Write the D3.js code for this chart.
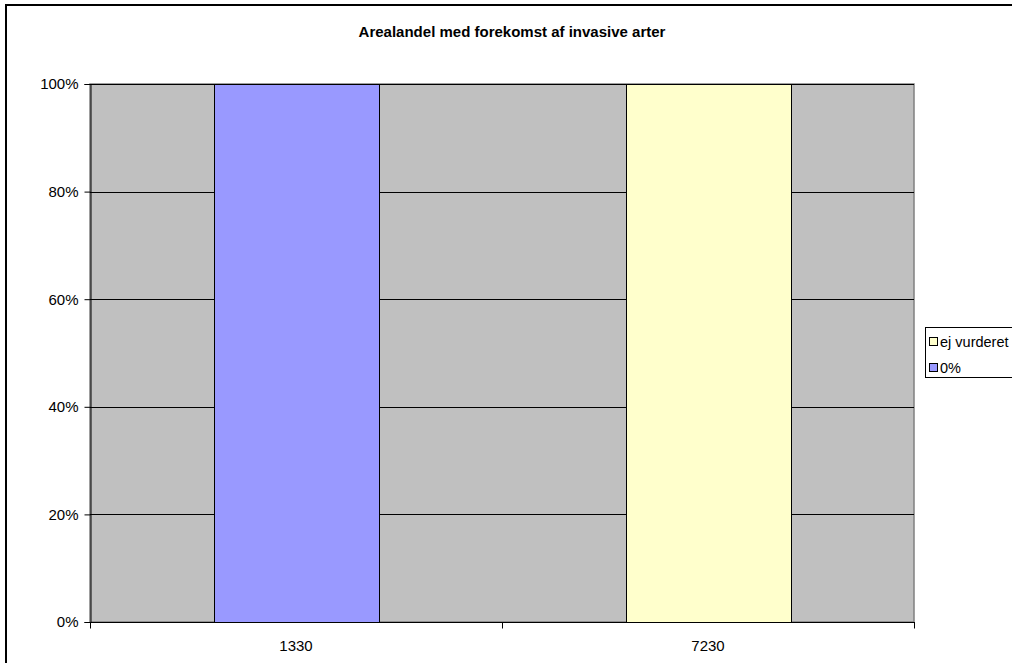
<!DOCTYPE html>
<html>
<head>
<meta charset="utf-8">
<script src="https://cdn.jsdelivr.net/npm/d3@7"></script>
<style>
  html, body { margin: 0; padding: 0; background: #fff; }
  svg { display: block; font-family: "Liberation Sans", Arial, sans-serif; }
</style>
</head>
<body>
<svg id="chart" width="1012" height="663"></svg>
<script>
// Habitat type codes along the x axis
const categories = ["1330", "7230"];
// Stacked 100% series (share of area, percent)
const seriesNames = ["0%", "ej vurderet"];
const share0 = [100, 0];
const shareNotAssessed = [0, 100];
const seriesColors = ["#9999FF", "#FFFFCC"];
const yTicks = [0, 20, 40, 60, 80, 100];
const title = "Arealandel med forekomst af invasive arter";

const svg = d3.select("#chart");
const W = 1012, H = 663;
const plot = { left: 90, top: 84, right: 914, bottom: 622 };
const FS = 15;

// Outer chart frame (only top and left edges fall inside the canvas)
svg.append("rect").attr("x", 6).attr("y", 5).attr("width", W).attr("height", H)
  .attr("fill", "#fff").attr("stroke", "#000").attr("stroke-width", 2);

svg.append("text").attr("x", 512).attr("y", 37).attr("text-anchor", "middle")
  .attr("font-size", FS).attr("font-weight", "bold").text(title);

const x = d3.scaleBand().domain(categories).range([plot.left, plot.right])
  .paddingInner(0.6).paddingOuter(0.3);
const y = d3.scaleLinear().domain([0, 100]).range([plot.bottom, plot.top]);

// Plot area background
svg.append("rect").attr("x", plot.left).attr("y", plot.top)
  .attr("width", plot.right - plot.left).attr("height", plot.bottom - plot.top)
  .attr("fill", "#C0C0C0").attr("stroke", "#808080").attr("stroke-width", 1.5);

// Horizontal gridlines
svg.append("g").selectAll("line").data(yTicks.filter(d => d > 0)).join("line")
  .attr("x1", plot.left).attr("x2", plot.right)
  .attr("y1", d => Math.round(y(d)) + 0.5).attr("y2", d => Math.round(y(d)) + 0.5)
  .attr("stroke", "#000").attr("stroke-width", 1);

// Stacked bars
const rows = categories.map((c, i) => ({ cat: c, "0%": share0[i], "ej vurderet": shareNotAssessed[i] }));
const stack = d3.stack().keys(seriesNames)(rows);
const color = d3.scaleOrdinal().domain(seriesNames).range(seriesColors);

svg.append("g").selectAll("g").data(stack).join("g")
  .attr("fill", d => color(d.key))
  .selectAll("rect").data(d => d.filter(p => p[1] - p[0] > 0)).join("rect")
  .attr("x", d => Math.round(x(d.data.cat)) + 0.5)
  .attr("width", Math.round(x.bandwidth()))
  .attr("y", d => Math.round(y(d[1])) + 0.5)
  .attr("height", d => Math.round(y(d[0]) - y(d[1])))
  .attr("stroke", "#000").attr("stroke-width", 1);

// Y axis
const yAxis = d3.axisLeft(y).tickValues(yTicks).tickFormat(d => d + "%")
  .tickSize(6).tickPadding(6);
const gy = svg.append("g").attr("transform", `translate(${plot.left + 0.5},0)`).call(yAxis);
gy.attr("font-size", FS).attr("font-family", "Liberation Sans, Arial, sans-serif");
gy.selectAll("text").attr("fill", "#000");
gy.selectAll("line, path").attr("stroke", "#000");

// X axis: tick marks at category boundaries, labels at centers
const gx = svg.append("g").attr("transform", `translate(0,${plot.bottom + 0.5})`);
gx.append("line").attr("x1", plot.left).attr("x2", plot.right + 1).attr("stroke", "#000");
const step = (plot.right - plot.left) / categories.length;
gx.selectAll("line.tick").data(d3.range(categories.length + 1)).join("line")
  .attr("class", "tick")
  .attr("x1", i => Math.round(plot.left + i * step) + 0.5)
  .attr("x2", i => Math.round(plot.left + i * step) + 0.5)
  .attr("y1", 0).attr("y2", 6).attr("stroke", "#000");
gx.selectAll("text").data(categories).join("text")
  .attr("x", d => x(d) + x.bandwidth() / 2).attr("y", 28)
  .attr("text-anchor", "middle").attr("font-size", FS).text(d => d);

// Legend
const lg = svg.append("g").attr("transform", "translate(925,327)");
lg.append("rect").attr("x", 0.5).attr("y", 0.5).attr("width", 120).attr("height", 50)
  .attr("fill", "#fff").attr("stroke", "#000");
const legendOrder = ["ej vurderet", "0%"];
const li = lg.selectAll("g.item").data(legendOrder).join("g")
  .attr("class", "item").attr("transform", (d, i) => `translate(0,${10 + i * 26})`);
li.append("rect").attr("x", 4.5).attr("y", 0.5).attr("width", 8).attr("height", 8)
  .attr("fill", d => color(d)).attr("stroke", "#000");
li.append("text").attr("x", 15).attr("y", 10).attr("font-size", 14.5).text(d => d);
</script>
</body>
</html>
